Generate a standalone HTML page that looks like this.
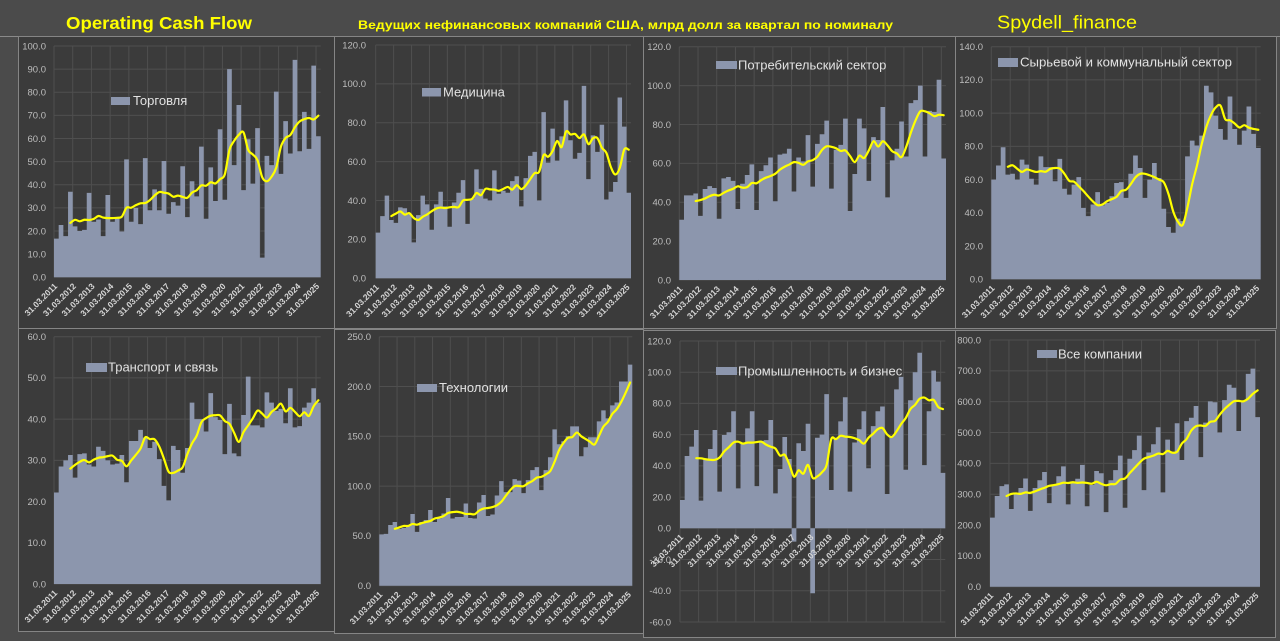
<!DOCTYPE html>
<html><head><meta charset="utf-8">
<style>
html,body{margin:0;padding:0;width:1280px;height:641px;overflow:hidden;background:#4b4b4b}
svg text{font-family:"Liberation Sans","DejaVu Sans",sans-serif}
</style></head>
<body>
<svg id="s" width="1280" height="641" viewBox="0 0 1280 641" xmlns="http://www.w3.org/2000/svg">
<rect width="1280" height="641" fill="#4b4b4b"/>
<text x="66" y="29" font-size="17.5" font-weight="bold" fill="#ffff00" textLength="186" lengthAdjust="spacingAndGlyphs">Operating Cash Flow</text>
<text x="358" y="29" font-size="12" font-weight="bold" fill="#ffff00" textLength="535" lengthAdjust="spacingAndGlyphs">Ведущих нефинансовых компаний США, млрд долл за квартал по номиналу</text>
<text x="997" y="28.5" font-size="18" fill="#ffff00" textLength="140" lengthAdjust="spacingAndGlyphs">Spydell_finance</text>
<line x1="0" y1="36.5" x2="1280" y2="36.5" stroke="#8a8a8a" stroke-width="1"/>
<g id="charts"></g>
<g id="legend" font-size="13" fill="#e2e2e2">
<rect x="111" y="97" width="19" height="8" fill="#8c96ad"/><text x="133" y="105">Торговля</text>
<rect x="422" y="88" width="19" height="8.5" fill="#8c96ad"/><text x="443" y="96.5">Медицина</text>
<rect x="716" y="61" width="21" height="8" fill="#8c96ad"/><text x="738" y="69.5">Потребительский сектор</text>
<rect x="998" y="58" width="20" height="9" fill="#8c96ad"/><text x="1020" y="66.5" textLength="212" lengthAdjust="spacingAndGlyphs">Сырьевой и коммунальный сектор</text>
<rect x="86" y="363" width="21" height="9" fill="#8c96ad"/><text x="108" y="371.5">Транспорт и связь</text>
<rect x="417" y="384" width="20" height="8" fill="#8c96ad"/><text x="439" y="392">Технологии</text>
<rect x="716" y="367" width="21" height="8" fill="#8c96ad"/><text x="738" y="375.5">Промышленность и бизнес</text>
<rect x="1037" y="350" width="20" height="8" fill="#8c96ad"/><text x="1058" y="358.5">Все компании</text>
</g>
</svg>
<script>
(function(){
var T=["31.03.2011","31.03.2012","31.03.2013","31.03.2014","31.03.2015","31.03.2016","31.03.2017","31.03.2018","31.03.2019","31.03.2020","31.03.2021","31.03.2022","31.03.2023","31.03.2024","31.03.2025"];
var P=[
{f:[18,36,334,328],L:54,R:320.7,z:277.3,ty:46,tv:100,lr:46,yl:"0.0,10.0,20.0,30.0,40.0,50.0,60.0,70.0,80.0,90.0,100.0",
d:[16.7,22.6,17.8,37,22,20,20.5,36.5,24,25,17.8,35.6,24,25.5,19.8,51,24,30,23,51.5,29,38,29,50.3,27.5,32.5,31,48,26,41.5,35,56.5,25.3,47.5,33,64,33.5,90,48.5,74.5,37.7,59.7,40.5,64.5,8.5,52.5,48.5,80.3,44.7,67.5,53.5,94,54.5,71.5,55.5,91.5,61]},
{f:[334,36,643,328],L:375.7,R:631,z:278.3,ty:45,tv:120,lr:366,yl:"0.0,20.0,40.0,60.0,80.0,100.0,120.0",
d:[23.5,32,42.5,30,28.5,36.5,36,33,18.5,32.5,42.5,38,25,38,44.5,37,26.5,39,44,50.5,28,41,56,46,41,40,55.5,43.5,45,44,50,52.5,37,51.5,63,65,40,85.5,59.5,77,60.5,73,91.5,71,61.5,64.5,99,51,73.5,65,79,40.5,44.5,49.5,93,78,44]},
{f:[643,36,955,328],L:679.3,R:946,z:280,ty:46.7,tv:120,lr:671,yl:"0.0,20.0,40.0,60.0,80.0,100.0,120.0",
d:[31,43.5,43.5,44.5,33,46.8,48.3,47.3,31.5,52.3,53,51,36.5,49.5,54,59.5,36,56,59,63,40.5,64.5,65,67.5,45.5,63,61,74.5,48,70,75,82,47,67,69.5,83,35.5,54.5,83,78,51,73.5,72,89,42.5,61.5,67.5,81.5,63.5,91,92.5,100,63.5,87,86.5,103,62.5]},
{f:[955,36,1276,328],L:991.3,R:1260.7,z:279.3,ty:46.7,tv:140,lr:983,yl:"0.0,20.0,40.0,60.0,80.0,100.0,120.0,140.0",
d:[60,68.5,79.5,63,63.5,60,72,69,60.5,57,74,67.5,67.5,59,72.5,54.5,51,57,61.5,43,38,45,52.5,44.5,46,50,58,58.5,49,63.5,74.5,67,49,60,70,61,42.5,31.5,28,36.5,35,74,83.5,80.5,86.5,116.5,112.5,98.5,90.5,84,110,90.5,81,89.5,104,87.5,79]},
{f:[18,328,334,631],L:54,R:320.7,z:584,ty:336.7,tv:60,lr:46,yl:"0.0,10.0,20.0,30.0,40.0,50.0,60.0",
d:[22.2,28.5,30,31.3,25.8,31.5,31.7,29,28.5,33.3,32.3,30,29,29.2,31.3,24.7,34.7,34.7,37.4,35.5,33,34.5,30.3,23.8,20.3,33.5,32.5,27,33,44,40,40,37,46.3,40.5,39.8,31.5,43.7,31.7,31,41,50.3,38.5,38.5,38,46.5,44,42,42.5,39,47.5,38,38.3,42.8,44,47.5,44]},
{f:[334,329,643,633],L:379.3,R:632.3,z:585.7,ty:336.7,tv:250,lr:371,yl:"0.0,50.0,100.0,150.0,200.0,250.0",
d:[51.5,52,61,64,57,58,61,72,54,64,66,76,64,67.5,72.5,88,67.5,69,69,82.5,68,67.5,83.5,91,70,71.5,90.5,105,94,94,107,105.5,93,106,116,119,96,116,129,157,142,145,150,160,160,130,139,149,149,165,176,168,181,184,205,205,222]},
{f:[643,330,956,637],L:680,R:945.3,z:528.3,ty:341,tv:120,mn:-60,lr:671,yl:"-60.0,-40.0,-20.0,0.0,20.0,40.0,60.0,80.0,100.0,120.0",
d:[18.1,46.3,52.3,63,17.7,44,50.8,63,23.5,59.8,61.5,75,25.6,55,64,75,27,56,56.5,69.4,22.4,38,58.5,44.4,-8.5,54.5,49.5,67,-41.6,58,60,86,24.5,58,68.5,84,23.5,55,63.5,75,38.5,65.5,75,78,22,59,89,97,37.5,82,100,112.5,40.5,75,101,94,35.5]},
{f:[955,330,1275,637],L:990,R:1260,z:586.7,ty:340,tv:800,lr:981,yl:"0.0,100.0,200.0,300.0,400.0,500.0,600.0,700.0,800.0",
d:[224,294,326,332,252,300,320,351,246,320,345,372,271,330,358,390,267,340,350,395,261,330,375,368,242,345,378,425,256,415,443,490,313,435,462,517,306,477,438,530,411,537,548,586,420,532,601,598,500,605,655,645,505,600,690,707,550]}
];
var NS="http://www.w3.org/2000/svg";
var g=document.getElementById('charts');
function el(n,a,txt){var e=document.createElementNS(NS,n);for(var k in a)e.setAttribute(k,a[k]);if(txt!==undefined)e.textContent=txt;g.appendChild(e);return e;}
P.forEach(function(p){
  var f=p.f;
  el('rect',{x:f[0]+.5,y:f[1]+.5,width:f[2]-f[0],height:f[3]-f[1],fill:'#3b3b3b',stroke:'#858585','stroke-width':1});
  var mn=p.mn||0;
  var k=(p.z-p.ty)/p.tv;
  var Y=function(v){return p.z-v*k;};
  var n=p.d.length,w=(p.R-p.L)/n;
  var labs=p.yl.split(',');
  labs.forEach(function(s){
    var y=Y(parseFloat(s));
    el('line',{x1:p.L,x2:p.R,y1:y,y2:y,stroke:'#4f4f4f','stroke-width':1});
    el('text',{x:p.lr,y:y+3.3,'text-anchor':'end',fill:'#bdbdbd','font-size':9.5},s);
  });
  for(var i=0;i<=n;i+=4){var x=p.L+i*w;el('line',{x1:x,x2:x,y1:p.ty,y2:Y(mn),stroke:'#4f4f4f','stroke-width':1});}
  var path='';
  p.d.forEach(function(v,i){var x=p.L+i*w,y=Y(v),top=Math.min(y,p.z),h=Math.abs(y-p.z);path+='M'+x.toFixed(2)+' '+top.toFixed(2)+'h'+w.toFixed(3)+'v'+h.toFixed(2)+'h'+(-w).toFixed(3)+'z';});
  el('path',{d:path,fill:'#8c96ad'});
  var pts=[];
  for(var i=3;i<n;i++){var m=(p.d[i]+p.d[i-1]+p.d[i-2]+p.d[i-3])/4;pts.push([p.L+(i+.5)*w,Y(m)]);}
  var dd='M'+pts[0][0].toFixed(2)+','+pts[0][1].toFixed(2);
  for(var i=0;i<pts.length-1;i++){
    var a=pts[i-1]||pts[i],b=pts[i],c=pts[i+1],e=pts[i+2]||c;
    dd+='C'+(b[0]+(c[0]-a[0])/6).toFixed(2)+','+(b[1]+(c[1]-a[1])/6).toFixed(2)+' '+(c[0]-(e[0]-b[0])/6).toFixed(2)+','+(c[1]-(e[1]-b[1])/6).toFixed(2)+' '+c[0].toFixed(2)+','+c[1].toFixed(2);
  }
  el('path',{d:dd,fill:'none',stroke:'#ffff00','stroke-width':2.2,'stroke-linejoin':'round','stroke-linecap':'round'});
  T.forEach(function(s,j){
    var cx=p.L+(4*j+.5)*w;
    el('text',{transform:'translate('+(cx+1.5).toFixed(2)+','+(p.z+9.5).toFixed(2)+') rotate(-45)','text-anchor':'end','font-size':8.5,'font-weight':'bold',fill:'#d6d6d6'},s);
  });
});
})();
</script>
</body></html>
